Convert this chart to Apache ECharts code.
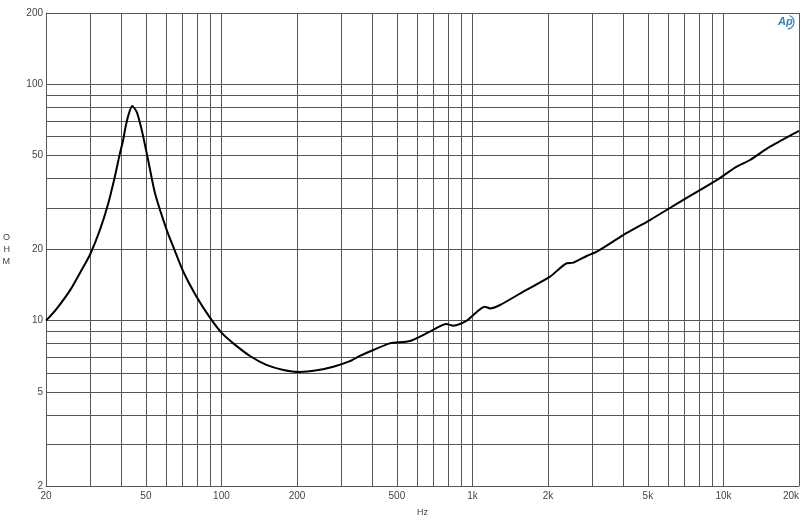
<!DOCTYPE html>
<html>
<head>
<meta charset="utf-8">
<script src="https://cdn.jsdelivr.net/npm/echarts@6/dist/echarts.min.js"></script>
<style>html,body{margin:0;padding:0;background:#fff}#c{width:800px;height:527px}</style>
</head>
<body>
<div id="c"></div>
<script>
// Frequency (Hz) and impedance (Ohm)
var freq = [20, 22, 25, 28, 30, 32.8, 35.4, 37.6, 39.4, 40.6, 41.5, 42.6, 44.1, 45.9, 47.4, 48.8, 51.2, 54.4, 60.5, 64.3, 70.5, 79.7, 90, 100, 111.5, 130, 151, 176.5, 205, 240, 279, 325, 356, 403, 469, 564, 677, 789, 839, 949, 1122, 1175, 1288, 1595, 2037, 2375, 2523, 2851, 3127, 3990, 5096, 6921, 9398, 11290, 12760, 15330, 20000];
var ohm  = [10.0, 11.2, 13.5, 16.7, 19.1, 24.2, 31.3, 40.6, 51, 58.1, 66, 74, 80.9, 76.5, 68.4, 60, 47.0, 34.5, 24.2, 20.5, 16.1, 12.6, 10.3, 8.9, 8.02, 7.09, 6.50, 6.19, 6.07, 6.17, 6.39, 6.75, 7.1, 7.52, 8.02, 8.21, 8.99, 9.68, 9.53, 10.0, 11.46, 11.27, 11.65, 13.27, 15.35, 17.5, 17.6, 18.77, 19.58, 23.0, 26.65, 32.4, 39.3, 44.8, 47.8, 54.4, 63.5];

var xGrid = [20, 30, 40, 50, 60, 70, 80, 90, 100, 200, 300, 400, 500, 600, 700, 800, 900, 1000, 2000, 3000, 4000, 5000, 6000, 7000, 8000, 9000, 10000, 20000];
var xLabels = [20, 50, 100, 200, 500, 1000, 2000, 5000, 10000, 20000];
var yGrid = [2, 3, 4, 5, 6, 7, 8, 9, 10, 20, 30, 40, 50, 60, 70, 80, 90, 100, 200];
var yLabels = [2, 5, 10, 20, 50, 100, 200];

var pts = freq.map(function (f, i) { return [f, ohm[i]]; });

function fmtHz(v) {
  v = Math.round(v);
  return v >= 1000 ? (v / 1000) + 'k' : String(v);
}

var chart = echarts.init(document.getElementById('c'), null, {renderer: 'canvas'});
chart.setOption({
  backgroundColor: '#ffffff',
  animation: false,
  grid: {left: 46, right: 1, top: 13, bottom: 41, containLabel: false, outerBoundsMode: 'none'},
  xAxis: {
    type: 'log', logBase: 10, min: 20, max: 20000,
    name: 'Hz', nameLocation: 'middle', nameGap: 22,
    nameTextStyle: {fontFamily: 'Arial, Liberation Sans', fontSize: 9, color: '#444'},
    axisLine: {show: true, lineStyle: {color: '#555', width: 1}},
    axisTick: {show: false, customValues: xGrid},
    axisLabel: {customValues: xLabels, formatter: fmtHz, fontFamily: 'Arial, Liberation Sans', fontSize: 10, color: '#444', margin: 5, hideOverlap: false, alignMaxLabel: 'right'},
    splitLine: {show: true, lineStyle: {color: '#555', width: 1}},
    minorSplitLine: {show: false}
  },
  yAxis: {
    type: 'log', logBase: 10, min: 2, max: 200,
    name: 'O\nH\nM', nameLocation: 'middle', nameGap: 36, nameRotate: 0,
    nameTextStyle: {fontFamily: 'Arial, Liberation Sans', fontSize: 9, color: '#444', lineHeight: 12},
    axisLine: {show: true, lineStyle: {color: '#555', width: 1}},
    axisTick: {show: false, customValues: yGrid},
    axisLabel: {customValues: yLabels, fontFamily: 'Arial, Liberation Sans', fontSize: 10, color: '#444', margin: 3, hideOverlap: false},
    splitLine: {show: true, lineStyle: {color: '#555', width: 1}}
  },
  graphic: [
    {type: 'text', x: 778, y: 16, style: {text: 'Ap', font: 'italic bold 11px Arial', fill: '#3a7fb5'}},
    {type: 'arc', x: 787, y: 22, shape: {cx: 0, cy: 0, r: 7, startAngle: -1.2, endAngle: 1.5}, style: {stroke: '#3a7fb5', fill: 'none', lineWidth: 1.2}}
  ],
  series: [{
    type: 'line',
    data: pts,
    smooth: 0.25,
    showSymbol: false,
    symbol: 'none',
    lineStyle: {color: '#000', width: 2}
  }]
});
</script>
</body>
</html>
